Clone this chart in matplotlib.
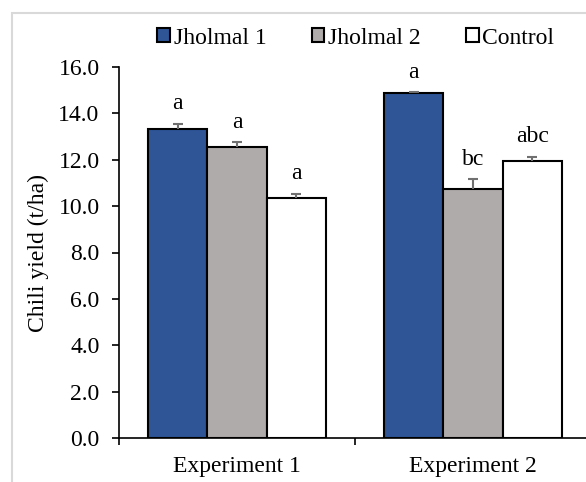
import numpy as np
import matplotlib.pyplot as plt
from matplotlib.patches import Rectangle

plt.rcParams['font.family'] = ['Liberation Serif', 'DejaVu Serif']

# data
experiments = ['Experiment 1', 'Experiment 2']
series = ['Jholmal 1', 'Jholmal 2', 'Control']
yield_j1 = [13.34, 14.88]
yield_j2 = [12.53, 10.74]
yield_ctrl = [10.35, 11.94]
err_j1 = [0.22, 0.03]
err_j2 = [0.23, 0.42]
err_ctrl = [0.19, 0.20]
letters_j1 = ['a', 'a']
letters_j2 = ['a', 'bc']
letters_ctrl = ['a', 'abc']

colors = ['#2F5597', '#AFABAB', '#FFFFFF']
fs = 17

fig = plt.figure(figsize=(5.86, 4.82), dpi=100)
# light grey chart-area frame (cropped on right/bottom)
fig.patches.append(Rectangle((12 / 586, -0.1), 1.2, 1 - 13 / 482 + 0.1,
                             transform=fig.transFigure, fill=False,
                             edgecolor='#D9D9D9', linewidth=1.5))

ax = fig.add_axes([119 / 586, 1 - 438 / 482, 472 / 586, 371 / 482])

x = np.arange(len(experiments))
width = 0.251
capw = 0.022
values = [yield_j1, yield_j2, yield_ctrl]
errors = [err_j1, err_j2, err_ctrl]
letters = [letters_j1, letters_j2, letters_ctrl]

for i, (vals, errs, labs) in enumerate(zip(values, errors, letters)):
    pos = x + (i - 1) * width
    vals = np.array(vals)
    errs = np.array(errs)
    ax.bar(pos, vals, width, color=colors[i], edgecolor='black', linewidth=1.5,
           label=series[i], zorder=2)
    # one-sided (upper) error bars
    ax.vlines(pos, vals, vals + errs, color='#707070', linewidth=1.5, zorder=3)
    ax.hlines(vals + errs, pos - capw, pos + capw, color='#707070', linewidth=1.5, zorder=3)
    for p, v, e, t in zip(pos, vals, errs, labs):
        ax.text(p, v + e + 0.4, t, ha='center', va='bottom', fontsize=fs)

ax.set_xlim(-0.5, 1.5)
ax.set_ylim(0, 16)
ax.set_yticks(np.arange(0, 16.1, 2))
ax.set_yticklabels([f'{v:.1f}' for v in np.arange(0, 16.1, 2)], fontsize=fs)
ax.set_xticks(x)
ax.set_xticklabels(experiments, fontsize=fs)
ax.set_xticks([-0.5, 0.5, 1.5], minor=True)
ax.tick_params(axis='x', which='major', length=0, pad=13)
ax.tick_params(axis='x', which='minor', length=5, width=1.2, direction='out')
ax.tick_params(axis='y', length=5, width=1.2, direction='out', pad=9)
for side in ['top', 'right']:
    ax.spines[side].set_visible(False)
ax.spines['left'].set_linewidth(1.2)
ax.spines['bottom'].set_linewidth(1.2)
ax.set_ylabel('Chili yield (t/ha)', fontsize=fs, labelpad=7)

fig.legend(loc='center', bbox_to_anchor=(0.607, 1 - 38 / 482), ncol=3, frameon=False,
           fontsize=fs, handlelength=0.55, handleheight=0.55, handletextpad=0.15,
           columnspacing=1.9, borderaxespad=0)

fig.savefig('out.png', dpi=100)
